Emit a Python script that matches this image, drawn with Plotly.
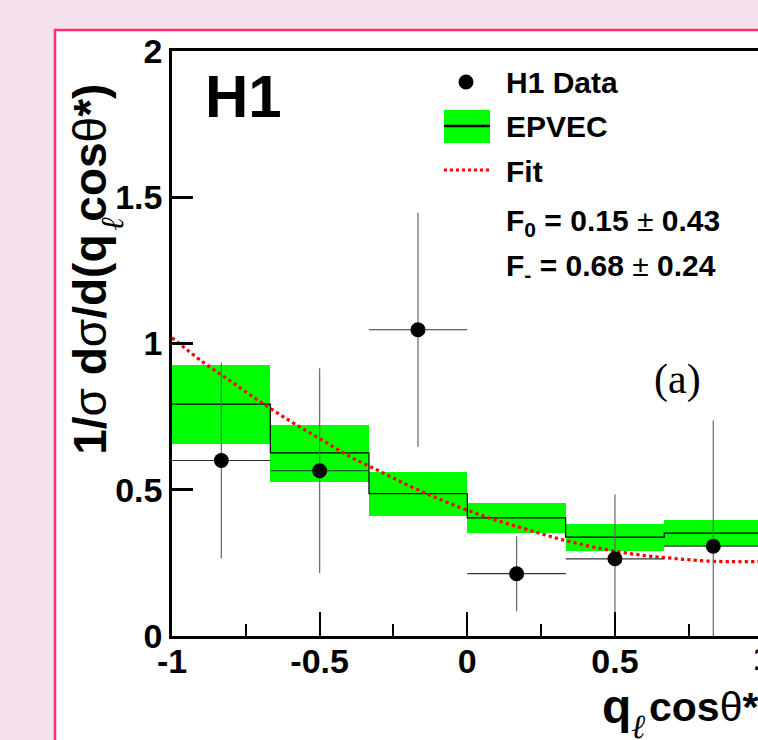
import plotly.graph_objects as go

# ---------------- data ----------------
bin_lo = [-1.0, -0.667, -0.333, 0.0, 0.333, 0.667]
bin_hi = [-0.667, -0.333, 0.0, 0.333, 0.667, 1.0]

data_x = [-0.833, -0.5, -0.167, 0.167, 0.5, 0.833]
data_y = [0.600, 0.565, 1.047, 0.213, 0.264, 0.307]
data_err = [0.335, 0.350, 0.400, 0.128, 0.220, 0.430]
data_xerr = [0.1667, 0.1667, 0.1667, 0.1667, 0.1667, 0.1667]

epvec = [0.793, 0.626, 0.487, 0.404, 0.338, 0.352]
band_hi = [0.925, 0.720, 0.561, 0.455, 0.383, 0.398]
band_lo = [0.658, 0.528, 0.409, 0.353, 0.292, 0.309]

fit_x = [-1.0, -0.9, -0.8, -0.7, -0.6, -0.5, -0.4, -0.3, -0.2, -0.1, 0.0,
         0.1, 0.2, 0.3, 0.4, 0.5, 0.6, 0.7, 0.8, 0.9, 1.0]
fit_y = [1.02, 0.94, 0.87, 0.80, 0.735, 0.675, 0.615, 0.565, 0.515, 0.47, 0.43,
         0.395, 0.365, 0.335, 0.31, 0.29, 0.275, 0.265, 0.257, 0.254, 0.255]

x_tickvals = [-1, -0.5, 0, 0.5]
x_ticktext = ["-1", "-0.5", "0", "0.5"]
y_tickvals = [0, 0.5, 1, 1.5, 2]
y_ticktext = ["0", "0.5", "1", "1.5", "2"]

# ---------------- geometry ----------------
W, H = 758, 740
L, T = 172, 51
BOT = 636.5
PX_PER_X = 295.3
B = H - BOT
R = 0
plot_w = W - L - R
plot_h = BOT - T
x_max = -1 + plot_w / PX_PER_X

SANS = "Liberation Sans, Arial, Helvetica, sans-serif"
SERIF = "Liberation Serif, Times New Roman, serif"


def px(xp):
    return (xp - L) / plot_w


def py(yp):
    return (BOT - yp) / plot_h


fig = go.Figure()

# green EPVEC uncertainty band
centers = [(a + b) / 2 for a, b in zip(bin_lo, bin_hi)]
widths = [b - a for a, b in zip(bin_lo, bin_hi)]
fig.add_trace(go.Bar(
    x=centers, y=[h - l for h, l in zip(band_hi, band_lo)], base=band_lo,
    width=widths, marker=dict(color="#00ff00", line=dict(width=0)),
    showlegend=False, hoverinfo="skip"))

# EPVEC histogram line
fig.add_trace(go.Scatter(
    x=bin_lo + [bin_hi[-1]], y=epvec + [epvec[-1]], mode="lines",
    line=dict(color="black", width=1.2, shape="hv"), showlegend=False))

# Fit
fig.add_trace(go.Scatter(
    x=fit_x, y=fit_y, mode="lines",
    line=dict(color="#ff0000", width=3.2, dash="dot", shape="spline"),
    showlegend=False))

# H1 data
fig.add_trace(go.Scatter(
    x=data_x, y=data_y, mode="markers",
    marker=dict(color="black", size=15),
    error_y=dict(type="data", array=data_err, color="#666666", thickness=1.2, width=0),
    error_x=dict(type="data", array=data_xerr, color="#333333", thickness=1.2, width=0),
    showlegend=False))

shapes = []
# white panel with pink border
shapes.append(dict(type="rect", xref="paper", yref="paper",
                   x0=px(55), x1=px(W + 50), y0=py(30), y1=py(H + 50),
                   line=dict(color="#ff2d68", width=2.5), fillcolor="white", layer="below"))
# legend glyphs
shapes.append(dict(type="circle", xref="paper", yref="paper",
                   x0=px(458.5), x1=px(473.5), y0=py(74.5), y1=py(89.5),
                   fillcolor="black", line=dict(width=0)))
shapes.append(dict(type="rect", xref="paper", yref="paper",
                   x0=px(444), x1=px(490), y0=py(110), y1=py(143),
                   fillcolor="#00ff00", line=dict(width=0)))
shapes.append(dict(type="line", xref="paper", yref="paper",
                   x0=px(444), x1=px(490), y0=py(126), y1=py(126),
                   line=dict(color="black", width=2.5)))
shapes.append(dict(type="line", xref="paper", yref="paper",
                   x0=px(444), x1=px(490), y0=py(170), y1=py(170),
                   line=dict(color="#ff0000", width=3, dash="dot")))

annotations = []


def ann(text, xp, yp, size, family=SANS, xanchor="left", yanchor="middle", angle=0, weight="normal"):
    annotations.append(dict(
        text=text, xref="paper", yref="paper", x=px(xp), y=py(yp),
        xanchor=xanchor, yanchor=yanchor, showarrow=False, textangle=angle,
        font=dict(family=family, size=size, color="black", weight=weight)))


ann("<b>H1</b>", 243, 97, 60, xanchor="center")
ann("<b>H1 Data</b>", 504, 83, 30)
ann("<b>EPVEC</b>", 504, 127, 30)
ann("<b>Fit</b>", 504, 172, 30)
ann("<b>F<sub>0</sub> = 0.15</b> ± <b>0.43</b>", 504, 223, 30)
ann("<b>F<sub>-</sub> = 0.68</b> ± <b>0.24</b>", 504, 268, 30)
ann("(a)", 677, 380, 42, family=SERIF, xanchor="center")
# cut-off tick label "1" at x = 1
ann("<b>1</b>", L + 2 * PX_PER_X, 659, 34, xanchor="center")
# x axis title: q, subscript ell, cos theta*
ann("<b>q</b>", 600, 707, 48)
ann("<i>ℓ</i>", 638, 727, 34, family=SERIF, xanchor="center")
ann("<b>cos</b>θ<b>*</b>", 647, 708, 41)
# y axis title
ann("<b>1/</b>σ<b> d</b>σ<b>/d(q cos</b>θ<b>*)</b>", 90, 270, 46,
    xanchor="center", angle=-90)
ann("<i>ℓ</i>", 112, 224, 32, family=SERIF, xanchor="center", angle=-90)

tickfont = dict(family=SANS, size=34, color="black", weight="bold")

fig.update_layout(
    width=W, height=H,
    margin=dict(l=L, r=R, t=T, b=B, pad=0),
    paper_bgcolor="#f5e1ee", plot_bgcolor="rgba(0,0,0,0)",
    barmode="overlay", bargap=0,
    shapes=shapes, annotations=annotations,
    xaxis=dict(range=[-1, x_max], showgrid=False, zeroline=False,
               showline=True, linecolor="black", linewidth=2.5, mirror=True,
               ticks="inside", ticklen=24, tickwidth=2, tickcolor="black",
               ticklabelstandoff=-7,
               tickvals=x_tickvals, ticktext=x_ticktext, tickfont=tickfont,
               minor=dict(tickvals=[-0.75, -0.25, 0.25, 0.75], ticklen=12, tickwidth=2,
                          ticks="inside", tickcolor="black", showgrid=False)),
    yaxis=dict(range=[0, 2], showgrid=False, zeroline=False,
               showline=True, linecolor="black", linewidth=2.5, mirror=False,
               ticks="inside", ticklen=21, tickwidth=2.5, tickcolor="black",
               tickvals=y_tickvals, ticktext=y_ticktext, tickfont=tickfont),
)

fig.write_html("out.html")
